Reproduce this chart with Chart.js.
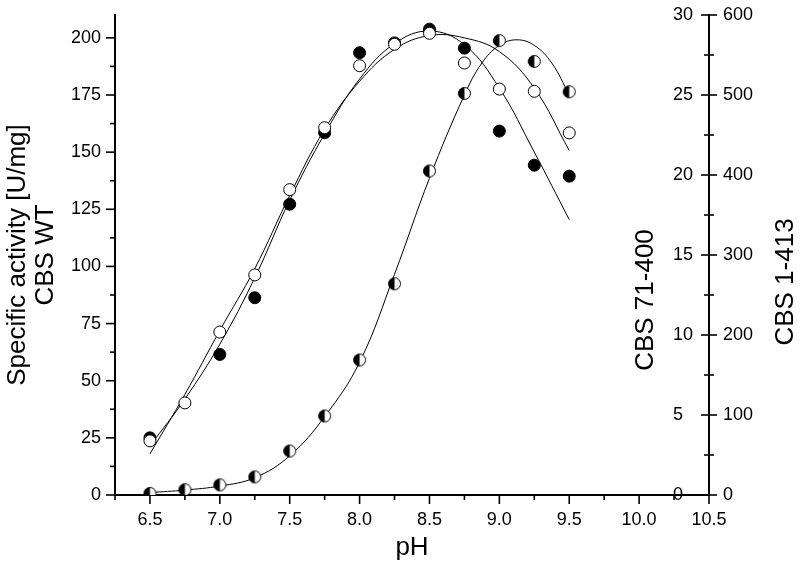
<!DOCTYPE html>
<html><head><meta charset="utf-8">
<script src="https://cdn.jsdelivr.net/npm/chart.js@4.4.1/dist/chart.umd.min.js"></script>
<style>html,body{margin:0;padding:0;background:#fff;} canvas{display:block;}</style>
</head><body>
<canvas id="c" width="800" height="576"></canvas>
<script>
// ---- data ----
const pH = [6.5, 6.75, 7.0, 7.25, 7.5, 7.75, 8.0, 8.25, 8.5, 8.75, 9.0, 9.25, 9.5];
const wtActivity = [25.0, null, 61.5, 86.3, 127.2, 158.5, 193.5, 197.8, 203.8, 195.5, 159.2, 144.3, 139.5];
const cbs1413Activity = [67.7, 115.1, 203.7, 275.1, 381.7, 459.1, 536.6, 563.4, 577.1, 540.0, 507.4, 504.6, 452.6];
const cbs71400Activity = [0.1, 0.33, 0.63, 1.13, 2.75, 4.94, 8.44, 13.2, 20.25, 25.1, 28.4, 27.1, 25.2];

const fitPH = [6.5, 6.75, 7.0, 7.25, 7.5, 7.75, 8.0, 8.25, 8.5, 8.75, 9.0, 9.25, 9.5];
const wtFit = [21.5, 42, 66, 95, 129, 158, 182, 197.5, 203, 197, 178, 150, 120.5];
const cbs1413Fit = [51.4, 125.7, 205.7, 282.9, 374.3, 457.1, 517.1, 557.1, 574.3, 571.4, 554.3, 508.6, 430.6];
const fit71400PH = [6.5, 6.75, 7.0, 7.25, 7.5, 7.75, 8.0, 8.25, 8.5, 8.75, 8.875, 9.0, 9.125, 9.25, 9.375, 9.5];
const cbs71400Fit = [0.15, 0.31, 0.56, 1.08, 2.45, 4.9, 8.3, 13.8, 19.8, 25.0, 27.0, 28.1, 28.45, 28.1, 27.0, 25.0];

// ---- tick labels ----
const phTicks = [6.5, 7.0, 7.5, 8.0, 8.5, 9.0, 9.5, 10.0, 10.5];
const phMinor = [6.25, 6.75, 7.25, 7.75, 8.25, 8.75, 9.25, 9.75, 10.25];
const wtTicks = [0, 25, 50, 75, 100, 125, 150, 175, 200];
const wtMinor = [12.5, 37.5, 62.5, 87.5, 112.5, 137.5, 162.5, 187.5];
const t71400Ticks = [0, 5, 10, 15, 20, 25, 30];
const t71400Minor = [2.5, 7.5, 12.5, 17.5, 22.5, 27.5];
const t1413Ticks = [0, 100, 200, 300, 400, 500, 600];

const FONT = 'Liberation Sans, Arial, Helvetica, sans-serif';
Chart.defaults.font.family = FONT;
Chart.defaults.color = '#000';

function pts(xs, ys) { return xs.map((x, i) => ({x: x, y: ys[i]})).filter(p => p.y !== null); }

function halfMarker(r) {
  const s = Math.ceil(2 * r + 3);
  const c = document.createElement('canvas');
  c.width = s; c.height = s;
  const g = c.getContext('2d');
  const m = s / 2;
  g.beginPath(); g.arc(m, m, r, 0, 2 * Math.PI); g.fillStyle = '#fff'; g.fill();
  g.beginPath(); g.moveTo(m, m); g.arc(m, m, r, Math.PI / 2, 3 * Math.PI / 2, false); g.closePath();
  g.fillStyle = '#000'; g.fill();
  g.beginPath(); g.arc(m, m, r, 0, 2 * Math.PI); g.lineWidth = 1; g.strokeStyle = '#000'; g.stroke();
  return c;
}
const R = 6;

const tickMarks = {
  id: 'tickMarks',
  afterDraw(chart) {
    const {ctx, scales} = chart;
    const x = scales.x, y = scales.y, y1 = scales.y1;
    ctx.save();
    ctx.strokeStyle = '#000';
    ctx.lineWidth = 1.6;
    const line = (a, b, c, d) => { ctx.beginPath(); ctx.moveTo(a, b); ctx.lineTo(c, d); ctx.stroke(); };
    phTicks.forEach(v => { const p = x.getPixelForValue(v); line(p, x.top, p, x.top + 9); });
    phMinor.forEach(v => { const p = x.getPixelForValue(v); line(p, x.top, p, x.top + 5); });
    wtTicks.forEach(v => { const p = y.getPixelForValue(v); line(y.right - 9, p, y.right, p); });
    wtMinor.forEach(v => { const p = y.getPixelForValue(v); line(y.right - 5, p, y.right, p); });
    t71400Ticks.forEach(v => { const p = y1.getPixelForValue(v); line(y1.left - 8, p, y1.left + 8, p); });
    t71400Minor.forEach(v => { const p = y1.getPixelForValue(v); line(y1.left - 5, p, y1.left + 5, p); });
    // right-hand axis titles (read bottom to top)
    ctx.fillStyle = '#000';
    ctx.font = '26px ' + FONT;
    ctx.textAlign = 'center';
    ctx.textBaseline = 'middle';
    const vt = (txt, cx, cy) => { ctx.save(); ctx.translate(cx, cy); ctx.rotate(-Math.PI / 2); ctx.fillText(txt, 0, 0); ctx.restore(); };
    vt('CBS 71-400', 646, 300);
    vt('CBS 1-413', 786, 282);
    ctx.restore();
  }
};

const tickFont = {size: 18, family: FONT};
const titleFont = {size: 26, family: FONT};
const noGrid = {display: false, drawTicks: false};
const fixV = w => s => { s.width = w; s.paddingTop = 0; s.paddingBottom = 0; };

new Chart(document.getElementById('c'), {
  type: 'scatter',
  data: {
    datasets: [
      {label: 'CBS 1-413', data: pts(pH, cbs1413Activity), yAxisID: 'y2', pointRadius: R,
       pointBackgroundColor: '#fff', pointBorderColor: '#000', pointBorderWidth: 1, showLine: false},
      {label: 'CBS WT', data: pts(pH, wtActivity), yAxisID: 'y', pointRadius: R,
       pointBackgroundColor: '#000', pointBorderColor: '#000', pointBorderWidth: 1, showLine: false},
      {label: 'CBS 71-400', data: pts(pH, cbs71400Activity), yAxisID: 'y1', pointRadius: R,
       pointStyle: halfMarker(R), showLine: false},
      {label: 'WT fit', data: pts(fitPH, wtFit), yAxisID: 'y', showLine: true, pointRadius: 0,
       borderColor: '#000', borderWidth: 1, tension: 0.4, fill: false},
      {label: '1-413 fit', data: pts(fitPH, cbs1413Fit), yAxisID: 'y2', showLine: true, pointRadius: 0,
       borderColor: '#000', borderWidth: 1, tension: 0.4, fill: false},
      {label: '71-400 fit', data: pts(fit71400PH, cbs71400Fit), yAxisID: 'y1', showLine: true, pointRadius: 0,
       borderColor: '#000', borderWidth: 1, tension: 0.4, fill: false}
    ]
  },
  options: {
    responsive: false,
    animation: false,
    devicePixelRatio: 1,
    layout: {padding: {top: 15, left: 0, right: 0, bottom: 0}},
    plugins: {legend: {display: false}, tooltip: {enabled: false}},
    scales: {
      x: {
        type: 'linear', position: 'bottom', min: 6.25, max: 10.5,
        afterBuildTicks: s => { s.ticks = phTicks.map(v => ({value: v})); },
        afterFit: s => { s.height = 81; s.paddingLeft = 0; s.paddingRight = 0; },
        ticks: {callback: v => Number(v).toFixed(1), font: tickFont, color: '#000', padding: 14,
                maxRotation: 0, autoSkip: false},
        grid: noGrid,
        border: {display: true, color: '#000', width: 2},
        title: {display: true, text: 'pH', font: titleFont, color: '#000', padding: {top: 0, bottom: 13}}
      },
      y: {
        type: 'linear', position: 'left', min: 0, max: 210,
        afterBuildTicks: s => { s.ticks = wtTicks.map(v => ({value: v})); },
        afterFit: fixV(115),
        ticks: {font: tickFont, color: '#000', padding: 14},
        grid: noGrid,
        border: {display: true, color: '#000', width: 2},
        title: {display: true, text: ['Specific activity [U/mg]', 'CBS WT'],
                font: {size: 26, family: FONT, lineHeight: 1.08}, color: '#000', padding: {top: 3.5, bottom: 0}}
      },
      y1: {
        type: 'linear', position: 'right', min: 0, max: 30,
        afterBuildTicks: s => { s.ticks = t71400Ticks.map(v => ({value: v})); },
        afterFit: fixV(0),
        ticks: {font: tickFont, color: '#000', mirror: true, crossAlign: 'far', padding: -16},
        grid: noGrid,
        border: {display: true, color: '#000', width: 2}
      },
      y2: {
        type: 'linear', position: 'right', min: 0, max: 600,
        afterBuildTicks: s => { s.ticks = t1413Ticks.map(v => ({value: v})); },
        afterFit: fixV(91),
        ticks: {font: tickFont, color: '#000', padding: 14},
        grid: noGrid,
        border: {display: false}
      }
    }
  },
  plugins: [tickMarks]
});
</script>
</body></html>
